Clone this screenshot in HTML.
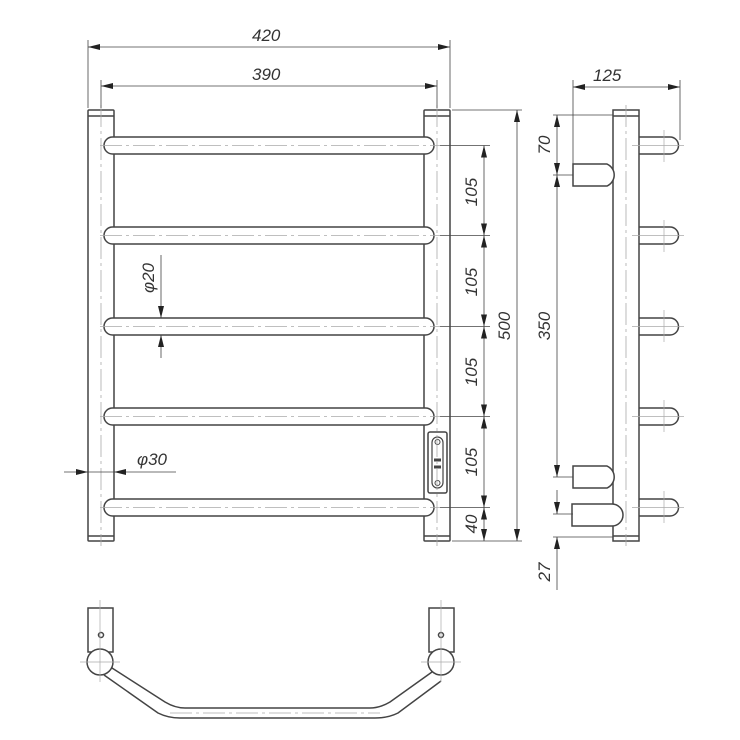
<!DOCTYPE html>
<html><head><meta charset="utf-8"><style>body{margin:0;background:#fff}svg{display:block}text{font-family:"Liberation Sans",sans-serif;font-size:17px;font-style:italic;fill:#333}</style></head><body>
<svg width="740" height="740" viewBox="0 0 740 740" xmlns="http://www.w3.org/2000/svg">
<defs>
<marker id="a" viewBox="0 0 12 6" refX="12" refY="3" markerWidth="12" markerHeight="6" orient="auto-start-reverse" markerUnits="userSpaceOnUse"><path d="M0,0L12,3L0,6z" fill="#222"/></marker>
</defs>
<g fill="none" stroke="#444" stroke-width="1.5">
<rect x="88" y="110" width="26" height="431" rx="1"/>
<rect x="424" y="110" width="26" height="431" rx="1"/>
<line x1="88" y1="116" x2="114" y2="116"/><line x1="424" y1="116" x2="450" y2="116"/>
<line x1="88" y1="536" x2="114" y2="536"/><line x1="424" y1="536" x2="450" y2="536"/>
<g fill="#fff">
<rect x="104" y="137" width="330" height="17" rx="8.5"/>
<rect x="104" y="227" width="330" height="17" rx="8.5"/>
<rect x="104" y="318" width="330" height="17" rx="8.5"/>
<rect x="104" y="408" width="330" height="17" rx="8.5"/>
<rect x="104" y="499" width="330" height="17" rx="8.5"/>
</g>
<rect x="428" y="432" width="19" height="61" rx="2" fill="#fff"/>
<rect x="432" y="437" width="11" height="51" rx="5.5" stroke-width="1.2"/>
<circle cx="437.5" cy="442" r="2.5" stroke-width="1"/><circle cx="437.5" cy="483" r="2.5" stroke-width="1"/>
<line x1="434" y1="460" x2="441" y2="460" stroke-width="3"/><line x1="434" y1="467" x2="441" y2="467" stroke-width="3"/>
<rect x="613" y="110" width="26" height="431"/>
<line x1="613" y1="116" x2="639" y2="116"/><line x1="613" y1="536" x2="639" y2="536"/>
<path d="M639,137H670a8.5,8.5 0 0 1 0,17H639"/>
<path d="M639,227H670a8.5,8.5 0 0 1 0,17H639"/>
<path d="M639,318H670a8.5,8.5 0 0 1 0,17H639"/>
<path d="M639,408H670a8.5,8.5 0 0 1 0,17H639"/>
<path d="M639,499H670a8.5,8.5 0 0 1 0,17H639"/>
<path d="M573,164H607a12,12 0 0 1 0,22H573z" fill="#fff"/>
<path d="M573,466H607a12,12 0 0 1 0,22H573z" fill="#fff"/>
<path d="M572,504H612a11,11 0 0 1 0,22H572z" fill="#fff"/>
<rect x="88" y="608" width="25" height="44"/><rect x="429" y="608" width="25" height="44"/>
<circle cx="101" cy="635" r="2.5"/><circle cx="441" cy="635" r="2.5"/>
<path d="M112,668L165,702Q175,708 185,708H370Q380,708 390,702L432,672"/>
<path d="M104,675L158,713Q168,718 180,718H375Q388,718 398,713L441,681"/>
<circle cx="100" cy="662" r="13" fill="#fff"/><circle cx="441" cy="662" r="13" fill="#fff"/>
</g>
<g stroke="#aaa" stroke-width="0.8" fill="none" stroke-dasharray="22,4,3,4">
<line x1="101" y1="105" x2="101" y2="546"/><line x1="437" y1="105" x2="437" y2="546"/>
<line x1="100" y1="145.5" x2="440" y2="145.5"/><line x1="100" y1="235.5" x2="440" y2="235.5"/>
<line x1="100" y1="326.5" x2="440" y2="326.5"/><line x1="100" y1="416.5" x2="440" y2="416.5"/><line x1="100" y1="507.5" x2="440" y2="507.5"/>
<line x1="626" y1="105" x2="626" y2="546"/>
<line x1="170" y1="713" x2="380" y2="713"/>
</g>
<g stroke="#aaa" stroke-width="0.7">
<line x1="664" y1="130" x2="664" y2="162"/><line x1="632" y1="145.5" x2="684" y2="145.5"/>
<line x1="664" y1="220" x2="664" y2="252"/><line x1="632" y1="235.5" x2="684" y2="235.5"/>
<line x1="664" y1="310" x2="664" y2="342"/><line x1="632" y1="326.5" x2="684" y2="326.5"/>
<line x1="664" y1="400" x2="664" y2="432"/><line x1="632" y1="416.5" x2="684" y2="416.5"/>
<line x1="664" y1="491" x2="664" y2="523"/><line x1="632" y1="507.5" x2="684" y2="507.5"/>
<line x1="100" y1="600" x2="100" y2="682"/><line x1="80" y1="662" x2="120" y2="662"/>
<line x1="441" y1="600" x2="441" y2="682"/><line x1="421" y1="662" x2="461" y2="662"/>
</g>
<g stroke="#444" stroke-width="0.8" fill="none">
<line x1="88" y1="40" x2="88" y2="108"/><line x1="450" y1="40" x2="450" y2="108"/>
<line x1="101" y1="80" x2="101" y2="108"/><line x1="437" y1="80" x2="437" y2="108"/>
<line x1="88" y1="47" x2="450" y2="47" marker-start="url(#a)" marker-end="url(#a)"/>
<line x1="101" y1="86" x2="437" y2="86" marker-start="url(#a)" marker-end="url(#a)"/>
<line x1="452" y1="110" x2="522" y2="110"/><line x1="452" y1="541" x2="522" y2="541"/>
<line x1="440" y1="145.5" x2="490" y2="145.5"/><line x1="440" y1="235.5" x2="490" y2="235.5"/>
<line x1="440" y1="326.5" x2="490" y2="326.5"/><line x1="440" y1="416.5" x2="490" y2="416.5"/><line x1="440" y1="507.5" x2="490" y2="507.5"/>
<line x1="484" y1="145.5" x2="484" y2="235.5" marker-start="url(#a)" marker-end="url(#a)"/>
<line x1="484" y1="235.5" x2="484" y2="326.5" marker-start="url(#a)" marker-end="url(#a)"/>
<line x1="484" y1="326.5" x2="484" y2="416.5" marker-start="url(#a)" marker-end="url(#a)"/>
<line x1="484" y1="416.5" x2="484" y2="507.5" marker-start="url(#a)" marker-end="url(#a)"/>
<line x1="484" y1="507.5" x2="484" y2="541" marker-start="url(#a)" marker-end="url(#a)"/>
<line x1="517" y1="110" x2="517" y2="541" marker-start="url(#a)" marker-end="url(#a)"/>
<line x1="161" y1="255" x2="161" y2="318" marker-end="url(#a)"/><line x1="161" y1="358" x2="161" y2="335" marker-end="url(#a)"/>
<line x1="64" y1="472" x2="88" y2="472" marker-end="url(#a)"/><line x1="176" y1="472" x2="114" y2="472" marker-end="url(#a)"/>
<line x1="88" y1="472" x2="114" y2="472"/>
<line x1="573" y1="80" x2="573" y2="164"/><line x1="680" y1="80" x2="680" y2="140"/>
<line x1="573" y1="87" x2="680" y2="87" marker-start="url(#a)" marker-end="url(#a)"/>
<line x1="553" y1="115" x2="613" y2="115"/><line x1="553" y1="175" x2="573" y2="175"/>
<line x1="553" y1="477" x2="573" y2="477"/><line x1="553" y1="514" x2="573" y2="514"/><line x1="553" y1="537" x2="613" y2="537"/>
<line x1="557" y1="115" x2="557" y2="175" marker-start="url(#a)" marker-end="url(#a)"/>
<line x1="557" y1="175" x2="557" y2="477" marker-start="url(#a)" marker-end="url(#a)"/>
<line x1="557" y1="490" x2="557" y2="514" marker-end="url(#a)"/>
<line x1="557" y1="590" x2="557" y2="537" marker-end="url(#a)"/>
</g>
<text x="252" y="41">420</text>
<text x="252" y="80">390</text>
<text x="593" y="81">125</text>
<text transform="translate(477,192) rotate(-90)" text-anchor="middle">105</text>
<text transform="translate(477,282) rotate(-90)" text-anchor="middle">105</text>
<text transform="translate(477,372) rotate(-90)" text-anchor="middle">105</text>
<text transform="translate(477,462) rotate(-90)" text-anchor="middle">105</text>
<text transform="translate(477,524) rotate(-90)" text-anchor="middle">40</text>
<text transform="translate(510,326) rotate(-90)" text-anchor="middle">500</text>
<text transform="translate(550,145) rotate(-90)" text-anchor="middle">70</text>
<text transform="translate(550,326) rotate(-90)" text-anchor="middle">350</text>
<text transform="translate(550,572) rotate(-90)" text-anchor="middle">27</text>
<text transform="translate(154,278) rotate(-90)" text-anchor="middle">φ20</text>
<text x="137" y="465">φ30</text>
</svg>
</body></html>
